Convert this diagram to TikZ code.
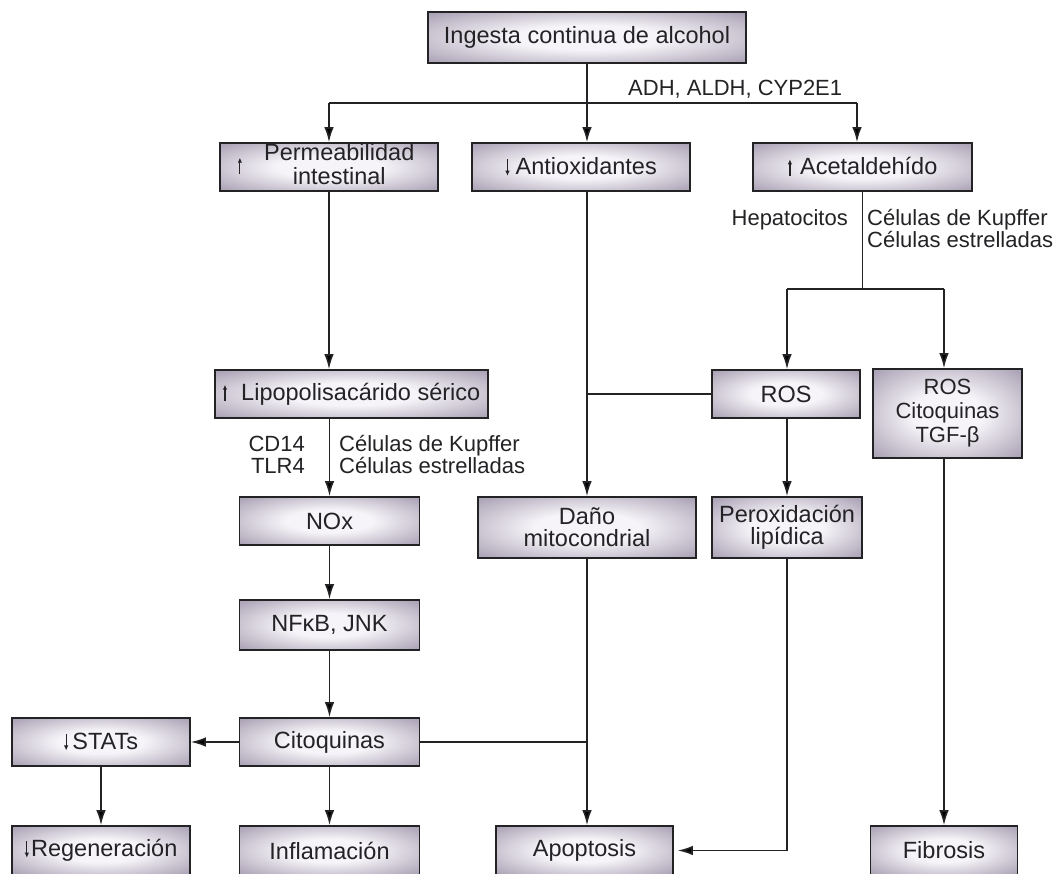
\documentclass[tikz,border=0pt]{standalone}
\usepackage{fontspec}
\setmainfont{Liberation Sans}
\usetikzlibrary{arrows.meta}

\definecolor{boxc}{RGB}{152,142,165}
\definecolor{glowc}{RGB}{246,244,248}
\definecolor{inkc}{RGB}{35,35,38}

% soft white glow in the middle of each box, lavender grey towards the border
\pgfdeclareradialshading{boxglow}{\pgfpoint{0bp}{0bp}}{%
  color(0bp)=(glowc); color(12bp)=(glowc); color(40bp)=(boxc);
  color(50bp)=(boxc); color(75bp)=(boxc)}

% thin up / down arrows set in front of a box text
\newcommand{\upar}{\tikz[baseline=0pt,x=1pt,y=1pt]\draw[draw=inkc,line width=1.2pt,-{Latex[length=5pt,width=4.5pt]}] (0,-1) -- (0,15.5);}
\newcommand{\dnar}{\tikz[baseline=0pt,x=1pt,y=1pt]\draw[draw=inkc,line width=1.2pt,-{Latex[length=5pt,width=4.5pt]}] (0,15.5) -- (0,-1);}

\tikzset{
  box/.style={draw=inkc, line width=1.6pt, shading=boxglow, text=inkc,
    inner sep=0pt, align=center, font=\fontsize{23.5}{22}\selectfont},
  lbl/.style={text=inkc, inner sep=0pt, font=\fontsize{22}{22}\selectfont},
  ln/.style={draw=inkc, line width=1.6pt},
  arr/.style={ln, -{Latex[length=15pt,width=9.5pt]}}
}

\begin{document}
\begin{tikzpicture}[x=1pt,y=-1pt]
\useasboundingbox (0,0) rectangle (1056,873);
\fill[white] (0,0) rectangle (1056,873);

% ---- boxes ----
\node[box, minimum width=318pt, minimum height=51pt] (ing) at (587,37.5) {Ingesta continua de alcohol};

\node[box, minimum width=218pt, minimum height=48pt] (perm) at (329,167)
  {\upar\hspace{22pt}\begin{tabular}{@{}c@{}}Permeabilidad\\intestinal\end{tabular}\hspace{6pt}};
\node[box, minimum width=218pt, minimum height=48pt] (antiox) at (581,167) {\dnar\hspace{6pt}Antioxidantes};
\node[box, minimum width=219pt, minimum height=48pt] (acet) at (862.5,167) {\upar\hspace{8pt}Acetaldehído};

\node[box, minimum width=273pt, minimum height=48pt] (lipo) at (351.5,394) {\upar\hspace{14pt}Lipopolisacárido sérico};
\node[box, minimum width=148pt, minimum height=48pt] (ros) at (786,394) {ROS};
\node[box, minimum width=149pt, minimum height=89pt, font=\fontsize{22}{24}\selectfont] (rosb) at (947.5,413.5)
  {ROS\\Citoquinas\\TGF-β};

\node[box, minimum width=180pt, minimum height=48pt] (nox) at (329.5,521) {NOx};
\node[box, minimum width=218pt, minimum height=61pt] (dano) at (587,527.5) {Daño\\mitocondrial};
\node[box, minimum width=150pt, minimum height=61pt] (perox) at (787,527.5) {Peroxidación\\lipídica};

\node[box, minimum width=180pt, minimum height=50pt] (nfkb) at (329.5,625) {NFκB, JNK};

\node[box, minimum width=178pt, minimum height=48pt] (stats) at (101,742) {\dnar\hspace{4pt}STATs};
\node[box, minimum width=180pt, minimum height=48pt] (cit) at (329.5,742) {Citoquinas};

\node[box, minimum width=178pt, minimum height=49pt] (regen) at (101,850.5) {\dnar\hspace{2pt}Regeneración};
\node[box, minimum width=180pt, minimum height=49pt] (infl) at (329.5,850.5) {Inflamación};
\node[box, minimum width=177pt, minimum height=49pt] (apo) at (584.5,850.5) {Apoptosis};
\node[box, minimum width=147pt, minimum height=49pt] (fib) at (944,850.5) {Fibrosis};

% ---- labels ----
\node[lbl, anchor=base west] (enz) at (628,95) {ADH, ALDH, CYP2E1};
\node[lbl, anchor=base east] (hep) at (848,225) {Hepatocitos};
\node[lbl, anchor=base west] (kup1) at (867,225) {Células de Kupffer};
\node[lbl, anchor=base west] (est1) at (867,247) {Células estrelladas};
\node[lbl, anchor=base east] (cd14) at (305,451) {CD14};
\node[lbl, anchor=base east] (tlr4) at (305,473) {TLR4};
\node[lbl, anchor=base west] (kup2) at (339,451) {Células de Kupffer};
\node[lbl, anchor=base west] (est2) at (339,473) {Células estrelladas};

% ---- junction points ----
\coordinate (tl) at (329,103);
\coordinate (tr) at (857,103);
\coordinate (ajL) at (787,289);
\coordinate (ajR) at (944,289);

% ---- connectors ----
\draw[ln] (tl) -- (tr);
\draw[arr] (ing.south) -- (ing.south |- antiox.north);
\draw[arr] (tl) -- (perm.north);
\draw[arr] (tr) -- (tr |- acet.north);

\draw[ln] (acet.south) -- (acet.south |- ajL);
\draw[ln] (ajL) -- (ajR);
\draw[arr] (ajL) -- (ajL |- ros.north);
\draw[arr] (ajR) -- (ajR |- rosb.north);

\draw[arr] (perm.south) -- (perm.south |- lipo.north);
\draw[arr] (nox.north |- lipo.south) -- (nox.north);

\draw[arr] (dano.north |- antiox.south) -- (dano.north);
\draw[ln] (ros.west) -- (ros.west -| dano.north);
\draw[arr] (ros.south -| ajL) -- (ajL |- perox.north);
\draw[arr] (rosb.south -| ajR) -- (fib.north);

\draw[arr] (nox.south) -- (nfkb.north);
\draw[arr] (nfkb.south) -- (cit.north);
\draw[arr] (cit.west) -- (stats.east);
\draw[ln] (cit.east) -- (cit.east -| dano.south);
\draw[arr] (dano.south) -- (dano.south |- apo.north);
\draw[arr] (stats.south) -- (regen.north);
\draw[arr] (cit.south) -- (infl.north);
\draw[arr, shorten >=4pt] (perox.south -| ajL) -- (ajL |- apo.east) -- (apo.east);
\end{tikzpicture}
\end{document}
